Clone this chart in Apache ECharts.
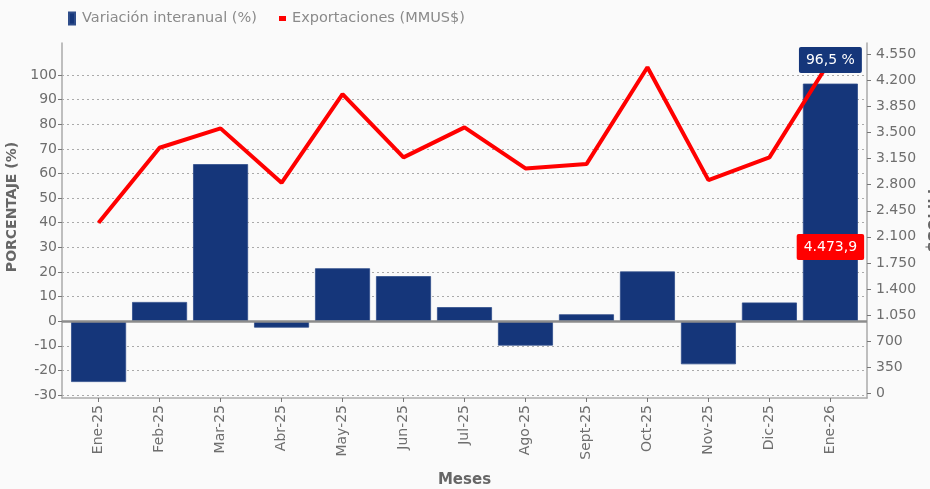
<!DOCTYPE html>
<html>
<head>
<meta charset="utf-8">
<script src="https://cdn.jsdelivr.net/npm/echarts@6/dist/echarts.min.js"></script>
<style>
  html, body { margin: 0; padding: 0; background: #fafafa; }
  #chart { width: 930px; height: 489px; }
</style>
</head>
<body>
<div id="chart"></div>
<script>
// datos
var meses = ['Ene-25', 'Feb-25', 'Mar-25', 'Abr-25', 'May-25', 'Jun-25', 'Jul-25', 'Ago-25', 'Sept-25', 'Oct-25', 'Nov-25', 'Dic-25', 'Ene-26']
var variacion = [-24.7, 7.8, 63.8, -2.6, 21.5, 18.3, 5.7, -9.9, 2.8, 20.2, -17.5, 7.6, 96.5]
var exportaciones = [2288, 3296, 3556, 2826, 4017, 3167, 3570, 3019, 3077, 4376, 2862, 3167, 4473.9]
var ticksPct = [-30, -20, -10, 0, 10, 20, 30, 40, 50, 60, 70, 80, 90, 100]
var ticksMM = [0, 350, 700, 1050, 1400, 1750, 2100, 2450, 2800, 3150, 3500, 3850, 4200, 4550]

var idx = meses.map(function (m, i) { return i })
var miles = function (v) {
  return String(v).replace(/\B(?=(\d{3})+(?!\d))/g, '.')
}

var chartDom = document.getElementById('chart')
var myChart = echarts.init(chartDom)
var last = meses.length - 1

var option = {
  backgroundColor: '#fafafa',
  textStyle: { fontFamily: 'DejaVu Sans' },
  animation: false,
  legend: [
    {
      left: 68,
      top: 11,
      padding: 0,
      icon: 'rect',
      itemWidth: 6,
      itemHeight: 12,
      data: ['Variación interanual (%)'],
      textStyle: { color: '#8a8a8a', fontSize: 14.5, padding: [0, 0, 0, 2] }
    },
    {
      left: 279,
      top: 11,
      padding: 0,
      icon: 'rect',
      itemWidth: 7,
      itemHeight: 5,
      data: ['Exportaciones (MMUS$)'],
      textStyle: { color: '#8a8a8a', fontSize: 14.5, padding: [0, 0, 0, 1] }
    }
  ],
  grid: {
    left: 62,
    right: 63,
    top: 43,
    bottom: 91,
    outerBoundsMode: 'none'
  },
  xAxis: {
    type: 'value',
    min: -0.6,
    max: 12.6,
    name: 'Meses',
    nameLocation: 'middle',
    nameGap: 75,
    nameTextStyle: { color: '#666', fontSize: 15, fontWeight: 'bold' },
    axisLine: { show: true, onZero: false, lineStyle: { color: '#aaa', width: 1.5 } },
    axisTick: { show: true, length: 4, customValues: idx, lineStyle: { color: '#777' } },
    axisLabel: {
      customValues: idx,
      rotate: 90,
      margin: 7,
      fontSize: 14,
      color: '#6e6e6e',
      formatter: function (v) { return meses[v] }
    },
    splitLine: { show: false }
  },
  yAxis: [
    {
      type: 'value',
      position: 'left',
      min: -31.2,
      max: 113,
      name: 'PORCENTAJE (%)',
      nameLocation: 'middle',
      nameGap: 37,
      nameTextStyle: { color: '#666', fontSize: 14, fontWeight: 'bold', padding: [0, 0, 0, 27] },
      axisLine: { show: true, onZero: false, lineStyle: { color: '#aaa', width: 1.5 } },
      axisTick: { show: true, length: 4, customValues: ticksPct, lineStyle: { color: '#777' } },
      axisLabel: { customValues: ticksPct, margin: 5, fontSize: 14, color: '#6e6e6e' },
      splitLine: { show: true, lineStyle: { color: '#aaa', type: [2, 3], width: 1 } }
    },
    {
      type: 'value',
      position: 'right',
      min: -63,
      max: 4702,
      name: 'MMUS$',
      nameLocation: 'middle',
      nameRotate: -90,
      nameGap: 57,
      nameMoveOverlap: false,
      nameTextStyle: { color: '#666', fontSize: 15, fontWeight: 'bold' },
      axisLine: { show: true, onZero: false, lineStyle: { color: '#aaa', width: 1.5 } },
      axisTick: { show: true, length: 4, customValues: ticksMM, lineStyle: { color: '#777' } },
      axisLabel: {
        customValues: ticksMM,
        margin: 9,
        fontSize: 14,
        color: '#6e6e6e',
        formatter: function (v) { return miles(v) }
      },
      splitLine: { show: false }
    }
  ],
  series: [
    {
      name: 'Variación interanual (%)',
      type: 'bar',
      yAxisIndex: 0,
      barWidth: 55,
      itemStyle: { color: '#15367a', borderColor: '#2f4d8a', borderWidth: 0.8 },
      data: variacion.map(function (v, i) { return [i, v] }),
      markLine: {
        silent: true,
        symbol: 'none',
        label: { show: false },
        lineStyle: { color: '#8c8c8c', width: 2.5, type: 'solid' },
        data: [{ yAxis: 0 }]
      },
      markPoint: {
        silent: true,
        symbol: 'rect',
        symbolSize: 1,
        itemStyle: { color: 'rgba(0,0,0,0)' },
        label: {
          show: true,
          position: 'top',
          distance: 10,
          color: '#fff',
          fontSize: 14,
          backgroundColor: '#15367a',
          padding: [6, 7, 6, 7],
          borderRadius: 2,
          formatter: String(variacion[last]).replace('.', ',') + ' %'
        },
        data: [{ coord: [last, variacion[last]] }]
      }
    },
    {
      name: 'Exportaciones (MMUS$)',
      type: 'line',
      yAxisIndex: 1,
      symbol: 'circle',
      symbolSize: 1,
      z: 3,
      itemStyle: { color: '#ff0000' },
      lineStyle: { color: '#ff0000', width: 4 },
      data: exportaciones.map(function (v, i) {
        var item = { value: [i, v] }
        if (i === last) {
          item.label = {
            show: true,
            position: 'inside',
            offset: [0, 187],
            formatter: miles(Math.floor(v)) + ',' + String(v).split('.')[1],
            color: '#fff',
            fontSize: 14,
            backgroundColor: '#ff0000',
            padding: [6, 7, 6, 7],
            borderRadius: 2
          }
        }
        return item
      })
    }
  ]
}

option && myChart.setOption(option)
</script>
</body>
</html>
